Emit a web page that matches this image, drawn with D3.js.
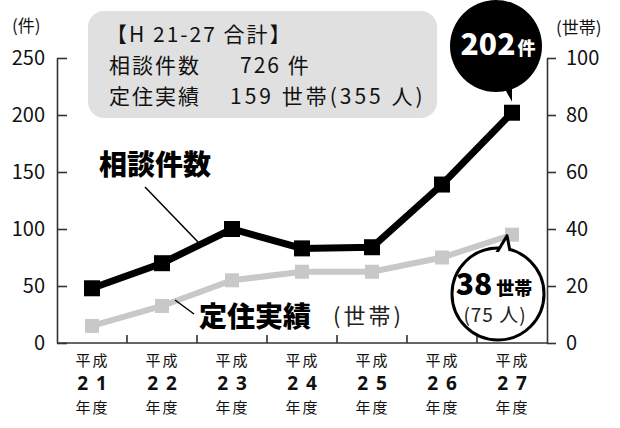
<!DOCTYPE html>
<html><head><meta charset="utf-8">
<script src="https://cdn.jsdelivr.net/npm/d3@7"></script>
<style>body{margin:0;background:#fff}svg{display:block}</style>
</head><body>
<svg id="c" width="620" height="428"></svg>
<script>
const years = ["21","22","23","24","25","26","27"];
const consultations = [48, 70, 100, 83, 84, 139, 202];
const settlements = [6, 13, 22, 25, 25, 30, 38];
const leftTicks = [0, 50, 100, 150, 200, 250];
const rightTicks = [0, 20, 40, 60, 80, 100];

const F = "'Noto Sans CJK JP','Noto Sans',sans-serif";
const svg = d3.select("#c");
const x = d3.scaleBand().domain(years).range([57, 547]);
const yL = d3.scaleLinear().domain([0, 250]).range([343, 58]);
const yR = d3.scaleLinear().domain([0, 100]).range([343, 58]);

// summary box
svg.append("rect").attr("x", 88).attr("y", 11).attr("width", 349).attr("height", 107)
  .attr("rx", 16).attr("fill", "#e0e0e0");
const box = svg.append("g").attr("font-family", F).attr("font-size", 21).attr("fill", "#111").attr("letter-spacing", 2);
box.append("text").attr("x", 106).attr("y", 42).text("【H 21-27 合計】");
box.append("text").attr("x", 109).attr("y", 73).text("相談件数");
box.append("text").attr("x", 240).attr("y", 73).text("726 件");
box.append("text").attr("x", 109).attr("y", 104).text("定住実績");
box.append("text").attr("x", 230).attr("y", 104).attr("letter-spacing", 3).text("159 世帯(355 人)");

// axes
const axL = svg.append("g").attr("transform", "translate(57,0)")
  .call(d3.axisLeft(yL).tickValues(leftTicks).tickSizeInner(-10).tickSizeOuter(0).tickPadding(12));
const axR = svg.append("g").attr("transform", "translate(547,0)")
  .call(d3.axisRight(yR).tickValues(rightTicks).tickSizeInner(9).tickSizeOuter(0).tickPadding(10));
[axL, axR].forEach(a => {
  a.selectAll("path,line").attr("stroke", "#333").attr("stroke-width", 1.6);
  a.selectAll("text").attr("font-family", F).attr("font-size", 20).attr("fill", "#111");
});
svg.append("line").attr("x1", 57).attr("x2", 547).attr("y1", 343).attr("y2", 343)
  .attr("stroke", "#333").attr("stroke-width", 1.6);
svg.selectAll(".xt").data(years.slice(0, -1)).join("line")
  .attr("x1", d => x(d) + x.bandwidth()).attr("x2", d => x(d) + x.bandwidth())
  .attr("y1", 343).attr("y2", 335).attr("stroke", "#333").attr("stroke-width", 1.6);

// x labels
const xl = svg.append("g").attr("text-anchor", "middle").attr("fill", "#111");
years.forEach(d => {
  const cx = x(d) + x.bandwidth() / 2;
  xl.append("text").attr("x", cx + 0.5).attr("y", 366).attr("font-family", F).attr("font-size", 15)
    .attr("letter-spacing", 2).text("平成");
  xl.append("text").attr("x", cx + 4).attr("y", 390).attr("font-family", "'Noto Sans',sans-serif")
    .attr("font-size", 19).attr("font-weight", 700).attr("letter-spacing", 8).text(d);
  xl.append("text").attr("x", cx + 0.5).attr("y", 413).attr("font-family", F).attr("font-size", 15)
    .attr("letter-spacing", 2).text("年度");
});

// unit labels
svg.append("text").attr("x", 12).attr("y", 32).attr("font-family", F).attr("font-size", 17).attr("fill", "#111").text("(件)");
svg.append("text").attr("x", 556).attr("y", 34).attr("font-family", F).attr("font-size", 17).attr("fill", "#111").text("(世帯)");

const cx = d => x(d) + x.bandwidth() / 2;
// settlement line (gray)
svg.append("path").datum(settlements)
  .attr("d", d3.line().x((v, i) => cx(years[i])).y(v => yR(v)))
  .attr("fill", "none").attr("stroke", "#c8c8c8").attr("stroke-width", 6);
svg.selectAll(".sq2").data(settlements).join("rect")
  .attr("x", (v, i) => cx(years[i]) - 7).attr("y", v => yR(v) - 7)
  .attr("width", 14).attr("height", 14).attr("fill", "#c8c8c8");

// consultation line (black)
svg.append("path").datum(consultations)
  .attr("d", d3.line().x((v, i) => cx(years[i])).y(v => yL(v)))
  .attr("fill", "none").attr("stroke", "#000").attr("stroke-width", 7);
svg.selectAll(".sq1").data(consultations).join("rect")
  .attr("x", (v, i) => cx(years[i]) - 8).attr("y", v => yL(v) - 8)
  .attr("width", 16).attr("height", 16).attr("fill", "#000");

// series labels & leaders
svg.append("text").attr("x", 99).attr("y", 175).attr("font-family", F).attr("font-size", 28)
  .attr("font-weight", 900).attr("fill", "#000").text("相談件数");
svg.append("line").attr("x1", 145).attr("y1", 187).attr("x2", 198).attr("y2", 242).attr("stroke", "#000").attr("stroke-width", 1.5);
svg.append("text").attr("x", 199).attr("y", 327).attr("font-family", F).attr("font-size", 28)
  .attr("font-weight", 900).attr("fill", "#000").text("定住実績");
svg.append("text").attr("x", 333).attr("y", 324).attr("font-family", F).attr("font-size", 22)
  .attr("letter-spacing", 3).attr("fill", "#222").text("(世帯)");
svg.append("line").attr("x1", 175).attr("y1", 300).attr("x2", 194).attr("y2", 314).attr("stroke", "#000").attr("stroke-width", 1.5);

// black bubble (202件)
const last = years.length - 1;
const tipX = cx(years[last]), tipY = yL(consultations[last]) - 11;
svg.append("path").attr("d", `M${tipX-11},82 L${tipX},${tipY} L${tipX},78 Z`).attr("fill", "#000");
svg.append("circle").attr("cx", 496).attr("cy", 46).attr("r", 46).attr("fill", "#000");
const t1 = svg.append("text").attr("x", 498).attr("y", 55).attr("text-anchor", "middle")
  .attr("font-family", F).attr("fill", "#fff").attr("font-weight", 900);
t1.append("tspan").attr("font-size", 30).text(consultations[last]);
t1.append("tspan").attr("font-size", 18).attr("dx", 2).text("件");

// white bubble (38世帯)
const tip2X = cx(years[last]) - 5, tip2Y = yR(settlements[last]) + 1;
svg.append("circle").attr("cx", 498).attr("cy", 294).attr("r", 46)
  .attr("fill", "#fff").attr("stroke", "#000").attr("stroke-width", 3);
svg.append("path").attr("d", `M${tip2X-11},254 L${tip2X},${tip2Y} L${tip2X+3},251`)
  .attr("fill", "#fff").attr("stroke", "#000").attr("stroke-width", 3).attr("stroke-linejoin", "round");
svg.append("rect").attr("x", tip2X - 12).attr("y", 252).attr("width", 14).attr("height", 7).attr("fill", "#fff");
const t2 = svg.append("text").attr("x", 494).attr("y", 295).attr("text-anchor", "middle")
  .attr("font-family", F).attr("fill", "#000").attr("font-weight", 900);
t2.append("tspan").attr("font-size", 30).text(settlements[last]);
t2.append("tspan").attr("font-size", 18).attr("dx", 4).text("世帯");
svg.append("text").attr("x", 495).attr("y", 322).attr("text-anchor", "middle")
  .attr("font-family", F).attr("font-size", 19).attr("letter-spacing", 1).attr("fill", "#222").text("(75 人)");
</script>
</body></html>
